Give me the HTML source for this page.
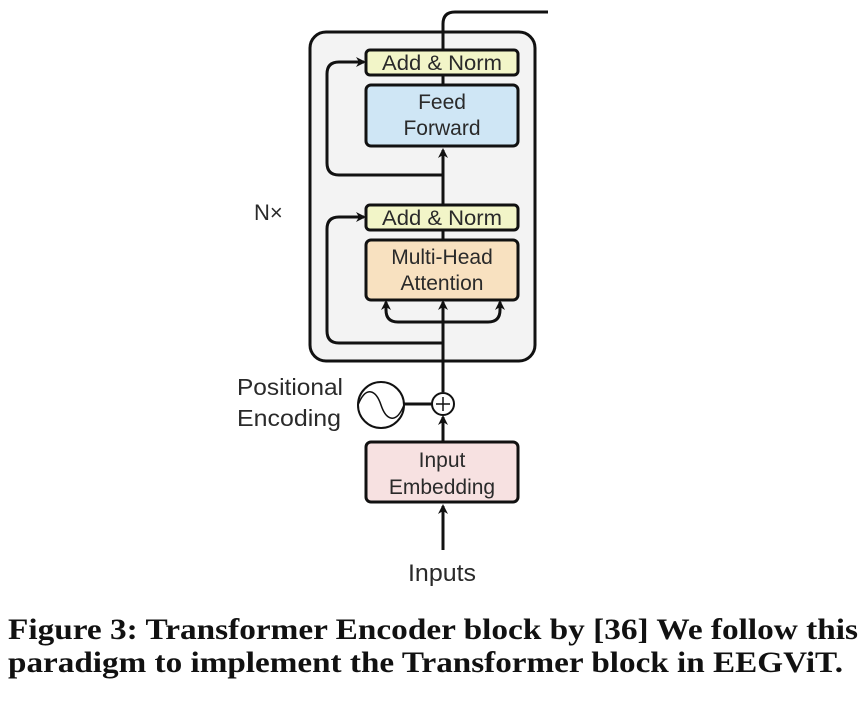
<!DOCTYPE html>
<html><head><meta charset="utf-8"><style>
html,body{margin:0;padding:0;background:#fff;}
svg{display:block}
</style></head><body>
<svg width="865" height="720" viewBox="0 0 865 720" xmlns="http://www.w3.org/2000/svg">
<defs>
<marker id="a" markerWidth="10" markerHeight="10" refX="8" refY="5" orient="auto" markerUnits="userSpaceOnUse">
<path d="M0,0 L10,5 L0,10 L3,5 z" fill="#111"/>
</marker>
</defs>
<g font-family="Liberation Sans, sans-serif" fill="#2a2a2a">
<rect x="310" y="32" width="225" height="329" rx="16" fill="#f3f3f3" stroke="#111" stroke-width="3"/>
<path d="M443 50 V24 Q443 12 455 12 H548" fill="none" stroke="#111" stroke-width="3"/>
<line x1="443" y1="75" x2="443" y2="85" stroke="#111" stroke-width="3"/>
<line x1="443" y1="205" x2="443" y2="150" stroke="#111" stroke-width="3" marker-end="url(#a)"/>
<line x1="443" y1="230" x2="443" y2="240" stroke="#111" stroke-width="3"/>
<line x1="443" y1="392" x2="443" y2="302" stroke="#111" stroke-width="3" marker-end="url(#a)"/>
<path d="M443 322 H398 Q386 322 386 310 V302" fill="none" stroke="#111" stroke-width="3" marker-end="url(#a)"/>
<path d="M443 322 H488 Q500 322 500 310 V302" fill="none" stroke="#111" stroke-width="3" marker-end="url(#a)"/>
<path d="M443 343 H339 Q327 343 327 331 V229 Q327 217 339 217 H364" fill="none" stroke="#111" stroke-width="3" marker-end="url(#a)"/>
<path d="M443 175 H339 Q327 175 327 163 V74 Q327 62 339 62 H364" fill="none" stroke="#111" stroke-width="3" marker-end="url(#a)"/>
<rect x="366" y="50" width="152" height="25" rx="4" fill="#f2f5c8" stroke="#111" stroke-width="3"/>
<text x="442" y="70" font-size="21" text-anchor="middle" textLength="120" lengthAdjust="spacingAndGlyphs">Add &amp; Norm</text>
<rect x="366" y="85" width="152" height="61" rx="5" fill="#cfe6f5" stroke="#111" stroke-width="3"/>
<text x="442" y="109" font-size="21" text-anchor="middle">Feed</text>
<text x="442" y="135" font-size="21" text-anchor="middle">Forward</text>
<rect x="366" y="205" width="152" height="25" rx="4" fill="#f2f5c8" stroke="#111" stroke-width="3"/>
<text x="442" y="225" font-size="21" text-anchor="middle" textLength="120" lengthAdjust="spacingAndGlyphs">Add &amp; Norm</text>
<rect x="366" y="240" width="152" height="60" rx="5" fill="#f8e1c0" stroke="#111" stroke-width="3"/>
<text x="442" y="264" font-size="21" text-anchor="middle">Multi-Head</text>
<text x="442" y="290" font-size="21" text-anchor="middle">Attention</text>
<text x="254" y="220" font-size="22">N×</text>
<circle cx="381" cy="405" r="23" fill="#fff" stroke="#111" stroke-width="2"/>
<path d="M358 405 C366 385 376 390 381 405 C386 420 396 425 404 405" fill="none" stroke="#111" stroke-width="1.5"/>
<line x1="404" y1="404" x2="432" y2="404" stroke="#111" stroke-width="3"/>
<circle cx="443" cy="404" r="11" fill="#fff" stroke="#111" stroke-width="2"/>
<line x1="436" y1="404" x2="450" y2="404" stroke="#111" stroke-width="1.5"/>
<line x1="443" y1="397" x2="443" y2="411" stroke="#111" stroke-width="1.5"/>
<text x="237" y="395" font-size="23" textLength="106" lengthAdjust="spacingAndGlyphs">Positional</text>
<text x="237" y="426" font-size="23" textLength="104" lengthAdjust="spacingAndGlyphs">Encoding</text>
<line x1="443" y1="442" x2="443" y2="417" stroke="#111" stroke-width="3" marker-end="url(#a)"/>
<rect x="366" y="442" width="152" height="60" rx="5" fill="#f7e1e1" stroke="#111" stroke-width="3"/>
<text x="442" y="467" font-size="21" text-anchor="middle">Input</text>
<text x="442" y="494" font-size="21" text-anchor="middle">Embedding</text>
<line x1="443" y1="550" x2="443" y2="506" stroke="#111" stroke-width="3" marker-end="url(#a)"/>
<text x="442" y="581" font-size="24" text-anchor="middle" textLength="68" lengthAdjust="spacingAndGlyphs">Inputs</text>
</g>
<g font-family="Liberation Serif, serif" font-weight="bold" font-size="30" fill="#111">
<text x="8" y="639" textLength="850" lengthAdjust="spacingAndGlyphs">Figure 3: Transformer Encoder block by [36] We follow this</text>
<text x="8" y="672" textLength="835" lengthAdjust="spacingAndGlyphs">paradigm to implement the Transformer block in EEGViT.</text>
</g>
</svg>
</body></html>
